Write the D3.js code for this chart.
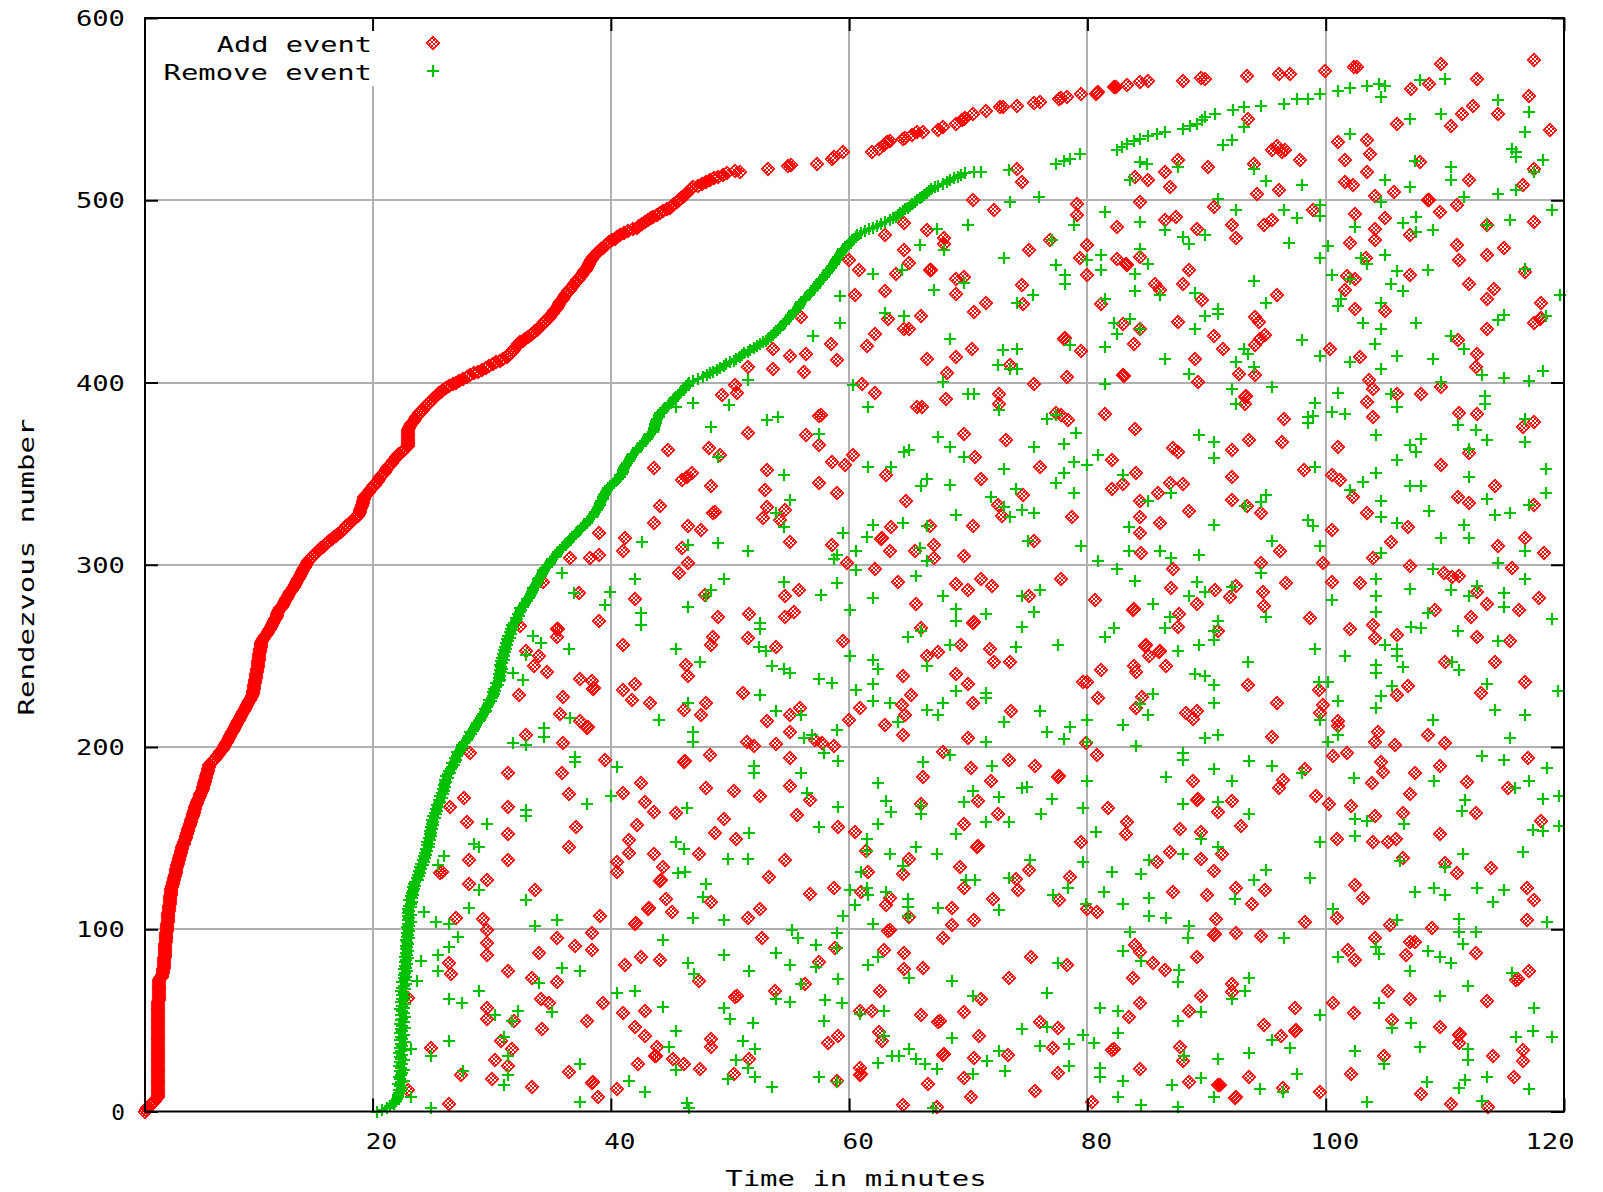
<!DOCTYPE html>
<html><head><meta charset="utf-8">
<script src="https://cdn.jsdelivr.net/npm/d3@7"></script>
<style>body{margin:0;background:#fff}svg{display:block}text{font-family:"DejaVu Sans Mono",monospace;font-size:21.5px;fill:#000}</style>
</head><body><svg id="c" width="1603" height="1192"></svg>
<script>
const xTicks=[20,40,60,80,100,120];
const yTicks=[0,100,200,300,400,500,600];
const seriesNames=["Add event","Remove event"];
const xTitle="Time in minutes";
const yTitle="Rendezvous number";

// First add time (minutes) of rendezvous number n = index 0..515
const addFrontTimes=[
0.9,1.0,1.1,1.3,1.5,1.6,1.75,1.85,1.95,1.98,
2.0,2.0,2.0,2.0,2.0,2.0,2.0,2.0,2.0,2.0,
2.0,2.0,2.0,2.0,2.0,2.0,2.0,2.0,2.0,2.0,
2.0,2.0,2.0,2.0,2.0,2.0,2.0,2.0,2.0,2.0,
2.0,2.02,2.02,2.02,2.02,2.02,2.02,2.02,2.02,2.02,
2.02,2.02,2.02,2.02,2.02,2.02,2.02,2.02,2.02,2.02,
2.02,2.05,2.05,2.05,2.05,2.05,2.05,2.05,2.05,2.05,
2.05,2.05,2.05,2.15,2.3,2.35,2.4,2.43,2.45,2.48,
2.5,2.5,2.5,2.51,2.52,2.54,2.55,2.56,2.57,2.59,
2.6,2.61,2.62,2.63,2.65,2.66,2.67,2.68,2.7,2.71,
2.72,2.74,2.75,2.77,2.79,2.81,2.82,2.84,2.86,2.87,
2.89,2.91,2.93,2.94,2.96,2.98,2.99,3.01,3.03,3.05,
3.06,3.08,3.12,3.16,3.19,3.23,3.27,3.31,3.35,3.38,
3.42,3.46,3.5,3.54,3.57,3.61,3.65,3.69,3.73,3.76,
3.8,3.84,3.89,3.94,3.99,4.04,4.09,4.14,4.19,4.25,
4.3,4.35,4.4,4.45,4.5,4.55,4.6,4.65,4.7,4.74,
4.79,4.84,4.89,4.93,4.98,5.03,5.08,5.12,5.17,5.23,
5.3,5.36,5.42,5.49,5.55,5.61,5.68,5.74,5.78,5.83,
5.87,5.92,5.96,6.0,6.05,6.09,6.13,6.18,6.22,6.27,
6.31,6.44,6.56,6.69,6.82,6.94,7.07,7.2,7.32,7.45,
7.54,7.62,7.71,7.79,7.88,7.96,8.05,8.13,8.22,8.3,
8.39,8.48,8.56,8.65,8.73,8.82,8.9,8.98,9.06,9.14,
9.22,9.3,9.38,9.46,9.54,9.62,9.7,9.78,9.86,9.94,
9.97,10.0,10.02,10.05,10.08,10.1,10.13,10.16,10.19,10.22,
10.24,10.27,10.3,10.33,10.36,10.38,10.4,10.42,10.45,10.47,
10.49,10.51,10.53,10.55,10.58,10.6,10.62,10.64,10.73,10.83,
10.92,11.01,11.11,11.2,11.29,11.39,11.48,11.56,11.64,11.71,
11.79,11.87,11.95,12.02,12.1,12.18,12.27,12.37,12.46,12.55,
12.65,12.74,12.83,12.93,13.02,13.11,13.21,13.3,13.39,13.49,
13.58,13.67,13.77,13.86,13.94,14.02,14.09,14.17,14.25,14.33,
14.4,14.48,14.56,14.72,14.88,15.03,15.19,15.35,15.51,15.66,
15.82,16.01,16.19,16.38,16.57,16.75,16.94,17.13,17.31,17.5,
17.65,17.81,17.96,18.12,18.27,18.43,18.58,18.74,18.89,18.94,
18.98,19.03,19.08,19.12,19.17,19.22,19.26,19.31,19.43,19.56,
19.68,19.81,19.93,20.05,20.18,20.3,20.42,20.54,20.66,20.77,
20.89,21.01,21.13,21.25,21.38,21.5,21.63,21.75,21.88,22.0,
22.13,22.25,22.43,22.6,22.78,22.95,22.95,22.95,22.95,22.95,
22.95,22.95,22.95,22.95,22.95,23.05,23.15,23.25,23.35,23.45,
23.55,23.65,23.79,23.93,24.07,24.21,24.35,24.49,24.63,24.77,
24.93,25.09,25.25,25.41,25.57,25.73,25.89,26.17,26.45,26.72,
27.0,27.28,27.59,27.89,28.2,28.5,28.83,29.15,29.48,29.8,
30.1,30.39,30.69,30.98,31.28,31.42,31.56,31.69,31.83,31.97,
32.11,32.24,32.38,32.6,32.83,33.05,33.28,33.5,33.66,33.81,
33.97,34.12,34.28,34.43,34.59,34.74,34.9,35.01,35.12,35.22,
35.33,35.44,35.55,35.65,35.76,35.87,35.98,36.08,36.19,36.3,
36.43,36.55,36.68,36.81,36.93,37.06,37.18,37.31,37.44,37.56,
37.69,37.78,37.88,37.97,38.06,38.16,38.25,38.34,38.44,38.53,
38.69,38.85,39.01,39.17,39.33,39.49,39.65,39.87,40.1,40.32,
40.55,40.77,41.12,41.47,41.82,42.17,42.4,42.63,42.87,43.1,
43.33,43.56,43.84,44.13,44.41,44.69,44.97,45.16,45.34,45.53,
45.71,45.9,46.08,46.25,46.42,46.59,46.76,46.93,47.28,47.63,
47.97,48.32,48.67,49.03,49.38,49.73];

// Remaining (sparser) first-add events at the top of the front: [minutes, number]
const addFrontTail=[[50.4,516],[50.8,515.5],[53.2,517],[54.9,518.8],[55.1,519.2],[57.3,520.1],[58.6,522.8],[58.7,523.7],[59.5,526.5],[61.9,526.5],[62.5,528.3],[62.9,530.1],[63.2,532],[63.4,532.5],[64.5,533.8],[64.7,534.2],[65.3,535.6],[65.7,537.4],[66.2,537.4],[67.5,538.7],[67.9,540.2],[69.0,541.6],[69.5,544.2],[69.6,544.7],[69.7,545.3],[70.4,547.5],[71.5,548.8],[72.7,550.9],[72.9,551.3],[74.1,551.5],[75.5,553.3],[76.0,553.9],[77.6,555.5],[77.8,555.9],[78.3,556.6],[79.5,558.5],[80.7,558.5],[80.8,558.8],[80.9,559.2],[82.2,561.9],[82.4,562.3],[83.3,563],[84.4,564.9],[85.1,565.4],[88.05,565.4],[89.5,567],[89.9,566.7],[93.4,568],[96.1,569.4],[97.0,569.4],[99.9,570.9],[102.4,573],[102.6,573.3],[109.7,574.9],[117.5,576.7]];

// Add events scattered after the front: [minutes, number]
const addScatter=[[60.0,467],[60.8,461.6],[60.5,447.9],[56.0,436],[53.6,418.6],[55.0,414.4],[56.4,415.9],[58.5,421.3],[59.0,412.2],[51.5,408.5],[53.6,407.6],[56.2,405.8],[50.4,398.5],
[74.1,517.3],[74.5,510],[70.4,500.3],[72.2,494.8],[79.1,498.1],[79.1,491.7],[64.6,487.5],[63.0,480.8],[66.5,483.9],[68.0,479.5],[68.0,476.2],[64.6,472.5],[65.0,465.6],[63.9,459.7],[66.8,461.9],[66.9,461.5],[75.1,472.5],[76.9,478],[80.0,475.3],[79.4,468.5],[80.0,458.8],[69.0,457],[69.6,457.9],[69.0,448.8],[74.5,453.3],[63.0,450.2],[71.5,443.6],[74.6,443.3],[70.5,438.7],[63.3,435],[66.0,436.3],[64.6,429.6],[65.0,429.6],[62.2,426.8],[61.5,419.9],[66.5,413.1],[69.0,414],[70.3,418.6],[78.0,424.1],[78.1,424.6],[79.5,417.3],[68.2,405.3],[73.5,409.5],[78.3,403.1],[75.5,399.4],[61.1,399.4],
[82.5,468],[83.2,465.2],[83.3,464.7],[84.4,468.9],[85.7,454.2],[86.1,450.6],[88.0,454.2],[88.5,461.6],[89.2,484.4],[89.6,445.1],[86.5,489],[87.4,490.8],[84.4,499],[82.5,485.3],[86.5,515.5],[87.6,521.9],[86.9,507.3],[85.1,511.3],[84.0,512.7],[90.1,518.2],[81.1,443.3],[83.0,432.3],[84.4,429.6],[87.6,433.2],[83.9,421.3],[89.0,413.1],[83.0,404],[83.1,403.3],[89.3,400.3],
[112.7,566.7],[107.2,561.2],[108.7,563.9],[117.1,557],[114.5,547.5],[111.4,547.1],[112.4,551.5],[110.5,540.5],[106.0,541.6],[118.8,538.7],[93.5,544.7],[101.0,532],[103.5,533.2],[95.5,527.7],[95.9,529.6],[96.3,526.5],[96.6,527.4],[97.8,522.3],[94.0,520.1],[101.6,522.3],[103.7,525.5],[107.9,521],[103.5,515.5],[101.6,510],[102.3,508.5],[112.0,511.3],[117.5,517.3],[116.6,508.2],[96.1,505.8],[94.2,503.2],[104.1,502.1],[105.7,504.5],[108.6,500],[108.7,500.4],[109.6,493.6],[111.0,497.2],[90.6,496.3],[92.1,486.2],[92.5,479.5],[94.8,486.2],[95.5,489.3],[98.9,494.8],[102.5,492.3],[105.0,490.4],[104.1,484.4],[104.1,478.4],[102.0,476.6],[107.1,480.8],[113.5,486.2],[117.5,488.1],[111.0,475.3],[111.2,467.4],[113.5,469.8],[115.0,474],[103.4,468.5],[101.8,458.3],[102.5,457],[101.6,450.6],[107.1,458.8],[112.0,454.2],[113.5,446],[114.1,451.5],[116.7,460.6],[118.1,443.6],[118.0,435],[118.1,435.5],[117.5,432.7],[113.5,429.6],[102.5,440.5],[105.0,439.3],[95.9,447.9],[94.1,436],[94.4,433.2],[90.6,425.4],[91.4,418.6],[94.1,420.4],[94.5,424.1],[94.9,425.9],[92.7,404.5],[94.1,404],[100.4,418.6],[102.9,414],[103.6,401.2],[111.1,423.5],[112.7,415.9],[112.6,408.5],
[49.3,393.2],[50.6,394.5],[57.5,381.7],[57.6,382.2],[51.5,372.5],[56.4,371.2],[57.5,365.8],[44.8,363],[48.2,363.9],[49.2,360.3],[58.6,356.6],[60.35,360.3],[59.65,354.8],[43.6,352.9],[53.1,352],[46.0,346.6],[46.8,350.2],[46.4,348.4],[48.4,343.3],[57.5,345.1],[59.0,339.6],[52.9,341.1],[44.1,332.3],[48.6,328.3],[48.7,328.8],[53.1,331.9],[52.8,325.5],[54.2,324.6],[54.6,330.1],[43.6,322.8],[46.5,321.3],[47.6,318.8],[39.0,317.3],[41.2,314.6],[55.0,312.7],[58.6,310.9],[46.0,309.1],[41.05,307.3],[36.6,303.6],[38.25,303.6],[39.0,305.4],[46.5,301.2],[45.7,295.4],[59.8,301.2],[34.3,290.8],[37.3,284.4],[42.0,281.1],[47.9,283.5],[54.6,282.9],[55.8,285.9],[49.0,271.2],[51.6,273.1],[54.6,271.6],[55.4,274.3],[39.0,268.9],[32.4,266.5],[35.5,264.6],[35.6,265],[35.5,260.3],[48.6,260.6],[48.4,256.1],[51.5,259.7],[53.9,255.1],[59.5,257.9],[41.0,256.1],[32.9,252.9],[34.0,250],[33.55,244.5],[34.6,240.9],[46.3,245.1],[46.5,238.7],[37.4,237.2],[38.4,236],[38.5,231.7],[38.6,232.2],[41.0,231.4],[42.0,234.7],[32.3,228.6],[51.1,229.9],[36.0,227.4],[41.8,225.9],[43.3,224.4],[48.0,224.4],[46.1,220.4],[47.6,217.7],[35.7,218.2],[37.4,214],[38.0,210.4],[38.1,210.9],[55.9,221.3],[55.0,217.7],[53.1,214],[55.0,208.5],[60.0,215],[32.9,206.7],[36.0,202.1],[51.4,203],[52.0,200.3],[53.9,201.8],[57.1,204],[57.7,202.1],[58.7,200.3],
[62.2,394.5],[65.7,386.8],[66.1,386.8],[68.1,390.8],[72.6,393.7],[72.6,388.2],[77.4,383.5],[77.8,382.2],[78.4,379.5],[69.6,371.8],[73.2,368.5],[70.6,359],[63.1,349.3],[76.0,353.5],[71.1,346.9],[74.6,338.3],[64.8,335.2],[72.5,332.8],[72.8,326.8],[78.7,326.1],[63.5,320.6],[66.8,321.3],[70.4,321.3],[62.7,314],[62.8,314.5],[63.4,307.8],[65.5,307.3],[67.1,310.9],[67.1,303.6],[69.6,304.9],[75.5,313.3],[62.2,297.6],[64.1,290.8],[69.0,289.5],[70.0,285.9],[71.1,292.1],[72.0,288.4],[77.8,292.1],[75.1,282.9],[65.6,278.5],[70.4,267.9],[70.5,268.4],[66.0,265.2],[66.5,250],[67.5,252.4],[69.4,256.1],[71.8,253.7],[72.2,246.4],[73.5,246.4],[64.5,238.7],[69.0,240.2],[70.0,234.7],[65.2,228.6],[64.4,223.1],[60.9,221.3],[70.4,224.4],[73.6,220],[64.7,217.7],[63.0,212.2],[64.5,206.7],[70.0,204.9],
[81.5,382.8],[84.0,374.3],[87.2,363.9],[87.6,362.1],[82.1,357.5],[84.1,350.6],[83.0,344.4],[82.1,341.4],[85.9,339.6],[86.9,344.7],[88.05,344.4],[84.4,335.2],[88.5,329.7],[84.4,326.1],[84.4,317.3],[86.1,322.8],[84.5,306.3],[87.2,297.6],[87.0,287.1],[80.6,280.4],[89.2,278.5],[83.8,275.3],[83.9,275.8],[87.7,273.1],[87.6,265.8],[84.8,255.5],[84.9,256],[86.0,252.4],[86.1,252.9],[85.2,249.7],[86.6,244.5],[83.9,244.5],[84.1,240.9],[81.1,242.4],[79.6,235.9],[80.0,235.4],[84.6,227.7],[84.1,221.3],[80.9,226.8],[88.3,218.6],[89.2,220],[88.9,215.3],[79.9,202.1],
[93.2,391.9],[93.3,392.4],[93.2,388.2],[96.5,379.8],[93.6,368.5],[96.3,367.6],[92.1,363],[92.1,348],[98.2,352],[92.1,335.6],[93.4,332.3],[94.6,328.3],[96.2,307.8],[94.6,301.2],[99.8,300.8],[104.0,396.3],[103.5,389.5],[104.0,381.3],[106.0,393.7],[108.0,393.7],[109.7,397.7],[111.2,383.5],[112.7,382.8],[116.6,375.8],[117.5,378.5],[101.0,364.5],[109.7,354.8],[112.0,361.2],[100.5,349.3],[101.2,346.6],[102.3,337.4],[114.2,343.3],[111.1,337],[112.0,333.8],[117.5,332.8],[103.5,328.3],[106.9,320.6],[100.5,318.8],[105.5,312.7],[116.7,314.6],[114.5,310.4],[118.3,306.3],[104.0,303.6],[107.1,299.4],[109.9,295.4],[110.6,293.2],[111.2,293.9],[115.6,298.1],[90.7,285.9],[92.5,288.4],[92.0,282.2],[94.7,284.8],[94.8,277.5],[96.7,289.9],[100.5,290.8],[102.9,289.9],[112.7,285.3],[113.5,278.5],[117.9,281.6],[116.2,274.9],[98.7,270.7],[109.2,274.9],[112.2,271.2],[102.0,264.7],[104.0,267],[106.0,261.5],[104.1,259.7],[112.7,260.6],[115.5,257.9],[91.0,263.4],[114.2,246.9],[110.0,246.9],[93.5,234.1],[99.4,231.4],[106.0,228.6],[106.9,233.2],[113.0,229.9],[116.7,235.9],[95.9,224.4],[99.8,223.1],[99.5,218.9],[101.0,214],[101.0,211.3],[104.4,208.5],[104.1,203],[95.5,205.4],[108.6,206.7],[110.0,202.1],[105.8,201.2],
[28.2,196.5],[31.4,185.6],[35.9,185.6],[27.7,171.9],[26.5,167.3],[31.4,167.3],[27.9,159.1],[36.5,174],[37.1,156.3],[31.4,152.1],[36.5,145.3],[28.1,138],[31.4,138],[25.7,130.7],[25.8,131.2],[28.1,124.7],[29.6,127.1],[33.6,121.6],[27.0,106.4],[29.3,105.7],[29.6,99.6],[29.6,92.3],[29.6,85.6],[26.4,81.4],[26.6,75.3],[31.4,77.1],[39.1,107.5],[38.4,97.8],[35.5,95.4],[37.0,91],[38.4,88.7],[34.0,86.8],[33.4,73.1],[35.5,70.9],[34.1,61.8],[34.8,59.4],[39.3,59.4],[38.0,49.7],[29.6,56.7],[29.6,50.8],[31.9,49.4],[34.2,45.3],[23.0,62.2],[30.8,38.8],[31.7,34.4],[24.9,34.8],[30.3,28.3],[31.4,24.7],[36.5,21.6],[30.0,17.9],[33.4,13.7],[38.4,15.5],[38.5,16],[38.9,8.2],[26.4,4],[23.0,11.9],[27.4,20],
[39.5,192.9],[46.1,192],[46.2,192.5],[48.3,195.6],[55.0,193.8],[42.5,180.1],[41.0,174.6],[42.9,170],[43.6,164.5],[45.5,163.6],[48.0,177.3],[50.3,175.9],[52.5,173.3],[55.0,178.8],[56.7,170.9],[55.6,162.7],[42.2,157.2],[41.5,149],[49.5,160.5],[48.7,152.7],[50.5,149.5],[41.5,141.7],[40.5,137.1],[40.5,131.6],[43.6,141.1],[44.4,134.4],[44.1,126.5],[44.2,127],[47.4,141.1],[54.6,138],[53.3,128.9],[44.6,116.6],[43.1,111.2],[43.2,111.7],[45.1,109.3],[42.0,102.7],[42.1,103.2],[48.4,114.8],[51.5,106.4],[52.5,111.2],[56.7,119.2],[58.7,122.9],[59.1,156.3],[52.7,95.4],[41.2,80.4],[42.5,84.5],[44.1,83.2],[47.4,71.7],[50.4,63.1],[53.8,66.2],[56.3,69.8],[57.5,81.9],[58.8,89.9],[41.0,53.9],[42.9,55.2],[42.0,46.6],[42.9,41.7],[43.9,35.6],[43.7,30.2],[43.8,30.7],[45.2,28.9],[46.1,26],[42.3,26],[47.5,23.4],[48.4,39.9],[48.4,35.6],[50.6,63.6],[51.6,28.9],[50.3,20.5],[58.2,37.5],[59.1,41.7],[40.5,12.4],[59.0,16.8],
[67.9,197.1],[73.4,192.9],[75.6,189.8],[70.2,188.3],[66.2,183.7],[77.5,183.7],[77.6,184.2],[71.9,181.4],[70.8,170.4],[66.0,168.6],[72.5,163.1],[69.6,157.6],[60.5,153.6],[79.5,148.1],[70.7,145.3],[70.8,145.8],[61.4,143],[65.0,138.6],[61.6,131.6],[64.5,130.2],[69.3,134.4],[75.1,132.5],[78.5,128.9],[74.0,127.6],[74.2,121.6],[69.6,122.9],[61.0,120.3],[63.4,117.4],[63.1,113.4],[72.1,116.6],[77.6,116.1],[68.6,111.9],[65.0,106.9],[68.6,102.4],[70.5,105.1],[63.3,99.1],[63.4,99.6],[67.9,95.4],[62.95,88.7],[64.6,86.8],[64.6,78.3],[66.2,79],[75.3,84.5],[78.3,80.4],[73.4,73.1],[62.6,66.2],[60.9,55.2],[61.9,55.2],[66.0,52.7],[67.5,49],[67.6,49.5],[69.6,54.5],[71.1,61.8],[70.9,41.7],[62.5,43.5],[62.8,38.8],[67.9,31.1],[68.0,31.6],[70.5,29.3],[73.3,31.1],[76.0,49],[77.5,45.7],[77.1,34.7],[60.9,23.8],[60.9,20.1],[61.0,20.6],[66.6,15],[69.6,18.6],[77.5,21],[75.6,11],[64.5,3.3],[67.4,2.2],[70.2,8.2],
[80.8,195.6],[88.9,181.4],[89.2,170.9],[89.3,171.4],[92.1,170.4],[96.4,181.9],[96.1,177.3],[99.2,173.3],[98.3,188],[91.0,164.5],[81.7,166.4],[83.3,159],[83.2,152.1],[87.8,155],[89.5,153.6],[92.9,156.9],[91.3,141.1],[86.9,142.6],[85.8,137.1],[89.5,138.6],[90.6,132],[87.2,120.7],[90.0,118.8],[92.5,122.5],[93.8,113.7],[94.9,121.6],[98.3,103.8],[90.8,105.7],[80.8,109.7],[80.0,111.2],[90.6,96.9],[90.7,97.4],[92.5,97.8],[94.6,96.5],[84.0,91.4],[84.4,87.4],[85.5,81.4],[89.2,84.5],[86.5,77.7],[83.8,73.1],[92.1,69.8],[92.1,65.5],[89.5,63.6],[84.4,59.4],[88.5,55.2],[83.5,51.6],[94.8,47.2],[96.25,41.7],[97.4,44.2],[97.5,44.7],[97.4,56.7],[82.1,33.8],[82.2,34.3],[87.8,35.6],[88.0,27.8],[84.4,23.4],[88.5,16.1],[91.0,14.3],[91.1,14.8],[92.4,7.3],[92.5,7.8],[93.6,19.2],[96.4,12.8],[99.5,10.6],[80.4,5.1],
[100.6,195.3],[101.8,196.5],[104.6,191.6],[104.8,186.5],[107.5,185.6],[109.6,189.8],[111.9,181],[103.9,180.1],[107.1,174],[100.3,168.6],[102.1,167.8],[112.6,163.6],[106.5,163.6],[104.1,162.3],[117.0,193.8],[115.3,177.7],[118.1,159.4],[100.95,149.5],[104.0,148.1],[105.2,148.1],[105.9,149.5],[109.6,152.1],[106.5,138.9],[110.0,136.2],[111.0,130.7],[113.85,133.8],[102.5,124.3],[103.1,117.4],[116.9,122.9],[117.5,116.1],[116.9,105.1],[100.95,106.4],[105.4,102.4],[108.9,100.9],[104.1,95.4],[107.1,92.9],[107.5,93.2],[101.9,88.7],[102.5,83.2],[106.7,85.6],[112.6,86.8],[117.1,77.1],[116.0,72.2],[116.1,72.7],[105.2,66.2],[107.1,61.8],[113.5,60.7],[100.6,59.4],[102.4,53.9],[105.6,50.3],[109.6,46.6],[111.2,42],[111.3,42.5],[111.2,37.5],[116.6,33.8],[116.6,27.8],[114.0,30.2],[104.9,30.7],[102.1,20.5],[115.8,19.2],[108.0,9.5],[110.5,4],[113.6,2.7]];

// First remove time (minutes) of rendezvous number n = index 0..515
const removeFrontTimes=[
20.4,20.8,21.2,21.5,21.8,21.9,22.0,22.05,22.1,22.15,
22.2,22.4,22.2,22.5,22.3,22.1,22.4,22.6,22.3,22.2,
22.4,22.5,22.3,22.6,22.4,22.2,22.5,22.3,22.6,22.4,
22.3,22.5,22.2,22.4,22.6,22.3,22.5,22.4,22.7,22.3,
22.5,22.4,22.6,22.3,22.5,22.4,22.7,22.5,22.3,22.6,
22.4,22.5,22.7,22.4,22.6,22.5,22.3,22.6,22.5,22.7,
22.4,22.6,22.5,22.7,22.5,22.6,22.4,22.7,22.5,22.6,
22.8,22.5,22.7,22.6,22.8,22.6,22.7,22.9,22.6,22.8,
22.7,22.9,22.7,22.8,23.0,22.7,22.9,22.8,23.0,22.8,
22.9,22.8,23.0,22.9,22.8,23.1,22.9,23.0,22.9,23.1,
23.0,22.9,23.1,23.0,23.2,22.95,23.1,23.0,23.2,23.0,
23.1,23.0,23.2,23.1,23.2,23.3,23.1,23.3,23.2,23.4,
23.3,23.4,23.5,23.4,23.6,23.5,23.6,23.8,23.7,23.9,
23.8,24.0,23.9,24.1,24.0,24.2,24.1,24.3,24.2,24.4,
24.3,24.5,24.4,24.6,24.5,24.7,24.6,24.7,24.6,24.8,
24.7,24.9,24.8,24.9,24.8,25.0,24.9,25.1,24.95,25.1,
25.0,25.2,25.1,25.3,25.2,25.4,25.3,25.5,25.4,25.6,
25.65,25.6,25.8,25.7,25.9,25.8,26.0,25.9,26.1,26.0,
26.1,26.2,26.1,26.3,26.2,26.3,26.5,26.4,26.6,26.7,
26.8,26.7,26.9,27.0,26.9,27.1,27.2,27.1,27.3,27.4,
27.6,27.5,27.7,27.8,27.9,28.0,28.1,28.3,28.2,28.4,
28.5,28.6,28.7,28.8,28.9,29.0,29.1,29.2,29.3,29.4,
29.5,29.4,29.6,29.7,29.8,29.9,29.8,30.0,30.1,30.2,
30.1,30.3,30.2,30.4,30.5,30.4,30.6,30.7,30.6,30.7,
30.6,30.8,30.7,30.9,30.8,30.7,30.9,30.8,31.0,30.9,
31.0,30.95,31.1,31.0,31.2,31.1,31.3,31.2,31.4,31.3,
31.5,31.4,31.6,31.5,31.7,31.6,31.8,31.7,31.85,32.0,
32.1,32.0,32.3,32.2,32.4,32.5,32.4,32.6,32.7,32.8,
32.95,33.0,33.1,33.2,33.3,33.35,33.5,33.5,33.6,33.7,
33.8,33.9,33.9,34.0,34.1,34.2,34.3,34.3,34.5,34.6,
34.8,34.9,35.0,35.1,35.3,35.4,35.5,35.6,35.75,35.9,
36.0,36.2,36.3,36.5,36.6,36.8,36.9,37.1,37.2,37.4,
37.5,37.7,37.8,38.0,38.1,38.2,38.4,38.5,38.6,38.7,
38.85,38.9,39.0,39.1,39.1,39.2,39.3,39.35,39.4,39.5,
39.6,39.7,39.8,39.95,40.1,40.3,40.4,40.6,40.75,40.8,
40.9,41.0,41.0,41.1,41.2,41.3,41.35,41.5,41.6,41.7,
41.8,41.9,42.1,42.2,42.3,42.5,42.6,42.7,42.9,43.0,
43.1,43.2,43.3,43.5,43.6,43.6,43.7,43.7,43.8,43.8,
43.9,44.0,44.0,44.1,44.3,44.4,44.6,44.8,44.9,45.0,
45.2,45.3,45.5,45.6,45.8,45.9,46.1,46.2,46.3,46.5,
46.6,46.9,47.3,47.7,48.05,48.3,48.6,48.9,49.2,49.5,
49.7,50.0,50.3,50.5,50.8,51.0,51.2,51.5,51.7,52.0,
52.3,52.5,52.8,53.0,53.2,53.4,53.6,53.7,53.9,54.0,
54.2,54.3,54.5,54.6,54.7,54.9,55.0,55.1,55.3,55.4,
55.5,55.7,55.8,55.9,56.0,56.2,56.3,56.4,56.6,56.7,
56.9,57.0,57.1,57.2,57.4,57.5,57.6,57.7,57.85,58.0,
58.1,58.2,58.3,58.5,58.6,58.7,58.8,58.9,59.0,59.1,
59.2,59.3,59.4,59.5,59.7,59.8,60.0,60.1,60.3,60.4,
60.6,60.7,61.0,61.3,61.7,62.0,62.3,62.7,63.0,63.4,
63.7,63.9,64.1,64.3,64.5,64.7,64.9,65.1,65.3,65.5,
65.7,65.95,66.1,66.3,66.5,66.7,66.9,67.2,67.5,67.9,
68.2,68.5,68.8,69.1,69.4,69.7];

// Remaining (sparser) first-remove events at the top of the front: [minutes, number]
const removeFrontTail=[[70.5,515.5],[71.1,515.5],[73.4,516.8],[77.4,520.1],[78.0,521.5],[78.5,522.8],[79.4,525.6],[82.5,527.4],[82.9,529],[83.3,531],[83.9,532.5],[84.4,533.8],[85.1,535.1],[85.8,536.5],[86.5,537.5],[88.0,539.3],[88.6,540.5],[89.2,542],[89.6,544],[89.9,545.7],[90.7,547.5],[92.2,549.5],[93.1,551.2],[94.6,551.6],[96.5,552.7],[97.6,555.7],[98.5,555.7],[99.5,558.5],[101.0,560],[102.0,561.8],[103.5,562.6],[104.5,564],[105.0,562.8],[107.9,565.8],[110.0,566.7]];

// Remove events scattered after the front: [minutes, number]
const removeScatter=[[59.2,447.3],[59.2,432.7],[57.0,425.4],[51.5,401.2],[60.35,398.5],
[75.9,501.8],[73.5,499],[70.0,486.2],[67.4,484.4],[65.95,475.3],[68.0,472.5],[73.0,468.5],[77.0,478],[78.9,486.2],[80.0,467],[77.4,464.3],[78.1,458.8],[78.1,454.2],[62.0,459.7],[64.4,461.6],[67.1,450.6],[69.6,454.6],[75.4,447.9],[74.1,443.6],[63.0,438.2],[64.6,436.3],[68.5,424.1],[72.9,417.7],[74.1,418.6],[72.5,409.5],[73.5,407.6],[74.1,407.6],[78.5,420.4],[67.9,400.3],
[81.5,493.6],[81.1,469.8],[81.1,461.6],[81.5,446],[84.4,488.1],[84.4,473.4],[85.1,465.2],[84.0,459.7],[84.0,450.2],[86.1,447.9],[86.5,483.9],[88.05,479.8],[88.5,476.2],[89.0,449.1],[89.9,436.3],[89.0,429.6],[83.6,435],[82.2,432.7],[82.5,426.8],[84.4,429.6],[81.5,419.5],[86.5,413.1],[88.5,404.5],[84.4,521],[85.0,520.1],[83.6,511.3],[87.6,518.2],[81.5,399.4],
[104.6,556.6],[114.5,554.8],[117.1,548.4],[116.7,537.4],[115.6,528.3],[116.0,526.5],[116.0,523.7],[118.2,522.3],[117.5,515.5],[116.0,505.8],[114.5,503.6],[109.7,547.5],[107.1,544.7],[102.0,536.5],[107.5,521.5],[110.5,518.2],[110.5,511.3],[105.0,510.9],[107.1,507.3],[111.6,501.8],[104.6,499],[119.0,494.8],[115.5,489.3],[113.5,486.2],[107.6,490.8],[106.5,487.5],[102.5,485.3],[107.6,482.6],[109.0,483.5],[100.2,474.7],[99.5,468.5],[103.0,468.5],[103.5,465.2],[105.0,469.8],[106.0,461.2],[108.6,461.6],[100.5,458.8],[102.0,457],[105.5,454.2],[106.5,450.2],[101.3,446],[101.0,441.8],[104.6,443.6],[116.7,462.5],[119.7,447.9],[118.5,436.3],[114.5,434.1],[115.0,436.9],[107.6,432.7],[103.1,432.7],[104.6,429.6],[104.1,421.3],[106.0,414.4],[109.0,413.1],[110.5,425.4],[111.6,418.6],[104.6,407.6],[102.0,411.3],[99.5,414.4],[113.1,404],[115.0,402.2],[117.1,400.9],[118.2,406.3],[109.7,400.3],
[93.1,540.2],[91.4,530.1],[92.1,533.2],[94.0,517.3],[95.0,510.6],[98.0,508.2],[91.0,500.9],[92.5,494.8],[96.5,494.8],[97.6,490.4],[99.5,497.2],[99.5,491.2],[96.9,476.6],[94.0,455.7],[95.0,443.6],[91.0,440.5],[91.0,437.4],[98.0,423.5],[93.1,418.6],[93.5,415.9],[92.5,411.3],[94.0,408.5],[89.9,480.8],
[46.9,389],[45.5,386.8],[49.9,387.7],[53.1,379.5],[54.0,380.9],[48.4,375.4],[57.5,371.8],[49.0,359],[54.5,349.3],[55.0,335.6],[53.9,328.6],[54.5,320.9],[59.5,317.3],[42.6,312.7],[46.5,310.9],[49.0,311.8],[51.5,307.3],[59.0,305.4],[58.7,303],[60.6,307.3],[60.6,297.2],[35.9,295.4],[42.0,292.1],[49.5,292.1],[54.5,290.8],[59.0,289.9],[36.9,284.4],[39.9,285.3],[48.4,285.9],[48.0,282.6],[57.6,283.5],[39.5,278],[46.5,276.7],[42.5,273.4],[42.5,267],[60.1,275.3],[52.5,267.9],[52.5,264.6],[33.5,261],[34.1,257],[36.5,253.7],[45.5,253.7],[52.4,255.1],[53.0,252.9],[32.9,250.6],[47.5,246.4],[53.5,244.5],[54.5,242.7],[55.0,240.5],[60.1,249.7],[31.8,240.5],[32.6,236.9],[57.5,237.2],[58.6,235],[52.5,228.6],[60.6,231.4],[46.5,224.4],[53.9,219.5],[56.0,217.7],[36.6,215.8],[44.0,214.6],[34.4,210.4],[34.4,205.4],[59.0,209.4],[46.9,208],[46.9,203],[31.8,202.1],[32.9,201.2],[56.2,204.9],[56.9,206.7],
[70.0,393.7],[70.5,393.7],[61.6,386.8],[72.6,385],[76.6,379.8],[77.4,382.2],[79.0,372.5],[67.5,370],[68.5,364.5],[75.5,364.5],[78.0,366.3],[64.6,362.1],[65.0,363],[69.6,359],[61.6,353.5],[63.5,353.5],[73.0,352.4],[78.9,356.6],[78.0,350.6],[66.5,346.9],[66.0,343.3],[68.5,343.8],[77.4,345.1],[78.9,339.6],[74.0,341.4],[71.9,337],[73.0,331.9],[73.5,326.1],[74.5,330.1],[75.5,328.3],[69.0,327.4],[62.0,321.9],[64.5,322.8],[66.5,321.3],[61.5,315.1],[65.95,309.1],[66.5,301.8],[75.0,313.3],[79.5,310.4],[65.6,294],[62.0,281.6],[67.9,282.9],[69.0,275.6],[69.0,269.4],[71.5,273.1],[74.5,282.9],[76.0,285.9],[75.5,274.3],[74.5,265.8],[64.9,260.3],[66.0,263.9],[68.5,256.1],[74.0,255.1],[77.5,256.1],[62.0,247.5],[62.4,242.7],[66.5,244.5],[62.0,234.7],[62.0,225.5],[63.4,224.4],[66.5,220.4],[67.5,217.7],[67.9,224.4],[69.0,231],[71.5,229.9],[71.5,226.8],[76.0,220],[73.0,213.5],[64.1,213.5],[76.6,208],[78.0,204.3],[78.5,210.9],[80.0,215],[71.5,202.5],
[89.4,371.2],[80.9,360.3],[80.0,354.8],[83.0,349.3],[85.1,335.2],[87.0,339.6],[83.5,320.6],[83.5,307.8],[86.1,307.8],[87.0,303.6],[89.4,305.4],[80.9,301.8],[82.5,297.6],[84.0,291.3],[89.2,290.3],[88.5,282.9],[89.9,285.3],[85.5,278.5],[86.9,271.2],[86.5,265.2],[82.2,265.2],[81.5,260.3],[87.6,252.9],[89.4,256.1],[89.0,240.2],[85.5,229.2],[84.4,223.7],[85.1,217.7],[83.0,212.2],[80.0,203],[84.1,200.3],[89.9,204.9],
[92.1,396.3],[95.5,397.7],[92.5,388.2],[99.1,389],[98.5,381.3],[98.9,381.7],[98.5,378],[100.5,384],[101.6,382.8],[101.0,394.5],[105.5,393.7],[106.0,386.8],[113.4,392.6],[113.4,388.2],[111.1,376.7],[112.6,374],[113.5,368.5],[116.7,379.8],[116.7,367.6],[104.2,371.2],[106.0,357.5],[107.1,365.8],[107.6,362.1],[108.0,368.9],[112.0,363.4],[112.0,348],[118.5,352.4],[118.5,339.6],[90.6,367.6],[90.6,358.4],[99.1,353.5],[104.2,350.6],[103.1,345.6],[102.0,341.1],[107.1,343.3],[108.0,343.3],[113.5,335.9],[114.2,327.4],[115.5,328.3],[117.1,332.8],[104.6,335.2],[104.6,326.1],[106.0,322.8],[108.7,329.7],[111.6,321.9],[112.0,314.6],[109.7,314.6],[116.7,307.3],[114.5,301.2],[116.7,292.1],[119.0,270.1],[93.2,332.3],[95.0,338.3],[94.6,334.7],[90.6,321.9],[95.5,313.3],[98.5,324.6],[98.9,321.3],[99.5,310.4],[104.6,306.7],[94.6,295.7],[109.0,297.6],[104.2,292.1],[104.2,282.6],[104.2,274.3],[107.1,286.6],[110.5,285.9],[112.0,282.6],[112.7,288.4],[115.0,284.4],[115.0,276.7],[108.6,273.4],[107.2,265.8],[108.0,265.2],[111.1,263.4],[114.5,257.9],[100.5,280.4],[92.1,287.7],[91.0,269.4],[90.6,263.9],[90.6,258.8],[95.0,271.6],[99.1,253.7],[105.0,256.1],[106.0,253.7],[106.0,250],[101.6,249.7],[106.5,243.8],[104.2,245.1],[104.2,240.5],[110.6,246.4],[111.2,242.4],[93.5,246.4],[89.9,239.1],[90.6,234.1],[99.4,235.4],[100.2,235.4],[105.6,233.6],[104.6,228.1],[101.0,225.5],[104.2,221.3],[90.6,224.4],[113.5,234.7],[114.2,220.4],[116.7,217.7],[119.5,231],[109.0,214.9],[99.5,214.9],[101.0,206.7],[100.2,203],[91.0,206.7],[115.5,204.9],
[37.0,194.7],[37.0,192],[40.5,189.2],[40.0,173.3],[38.0,168.6],[32.9,165.5],[32.9,162.3],[29.6,157.6],[28.5,146.6],[28.9,145.3],[26.0,140.4],[25.5,135.3],[28.9,121.6],[32.9,116.1],[28.1,111.9],[24.3,109.7],[25.3,104.2],[26.4,102.7],[33.6,102],[35.5,105.1],[27.2,96],[26.4,90.5],[25.5,85.6],[25.5,77.1],[24.1,82.6],[23.7,71.7],[28.9,66.2],[26.4,61.8],[27.5,59.4],[34.0,70.4],[35.9,79],[37.4,77.1],[35.1,54.5],[32.2,55.2],[30.3,52.7],[31.7,49.4],[26.4,38.8],[24.9,30.2],[23.2,34.4],[31.0,41.1],[31.4,30.2],[37.4,26],[27.6,22.3],[31.0,14.6],[31.4,20.1],[23.2,8.2],[24.9,1.8],[37.4,5.1],
[42.0,66.2],[40.5,64.9],[44.4,94.2],[44.4,57.6],[45.5,44.2],[44.9,35.6],[46.4,166.4],[45.5,148.1],[46.1,144.1],[45.6,130.7],[46.2,131.3],[48.0,124.7],[47.7,117.9],[46.9,106.4],[46.5,81.4],[47.0,75.3],[49.5,85.6],[49.5,105.1],[49.8,138.6],[51.5,138.6],[51.6,152.7],[52.0,189.8],[52.0,185.6],[56.0,185.6],[56.5,174.6],[57.5,156.3],[59.1,167.3],[57.9,196.5],[59.1,192.3],[60.1,121.6],[59.5,107.5],[55.2,99.6],[55.7,95.1],[57.2,91.4],[59.0,97.8],[59.0,89.6],[53.9,86.8],[55.0,80.4],[57.2,79.5],[51.6,77.1],[56.0,69.8],[53.9,61.8],[55.0,60],[58.0,61.3],[59.1,72.8],[59.4,59.4],[49.5,57],[50.0,50.8],[51.9,48.4],[57.9,49.7],[45.5,22.8],[51.1,38.8],[52.1,34.4],[50.5,28.3],[51.5,24.1],[52.1,19.2],[49.8,17.9],[53.5,13.7],[57.5,19.2],[59.0,16.1],[41.5,16.5],[42.9,10.6],[46.4,4.6],[46.6,1.8],
[68.5,195.6],[66.2,192],[71.95,189.8],[72.6,172.8],[74.9,178.3],[74.5,177.7],[77.0,171.5],[76.1,163.1],[80.0,181.4],[79.6,166.4],[62.4,180.1],[63.1,170.4],[63.5,164.5],[66.0,167.8],[66.0,163.1],[69.6,170],[70.4,175.9],[62.4,157.6],[69.0,152.1],[71.5,159.1],[73.4,159.1],[61.5,149.5],[61.5,143],[63.45,141.1],[65.6,145.3],[67.4,141.1],[64.5,134.9],[75.2,138],[69.8,127.1],[70.6,127.1],[73.4,128.3],[61.0,131.6],[61.5,122.9],[63.1,120.7],[64.9,116.6],[64.9,112.4],[60.5,113.4],[67.5,111.9],[72.6,110.6],[77.1,118.8],[78.4,122.9],[79.6,136.7],[79.9,113.7],[62.0,102.7],
[88.0,196.5],[88.0,192.9],[86.6,183.7],[90.6,188],[92.15,181.4],[93.6,192.3],[95.5,189.8],[98.0,185.6],[88.0,168.6],[91.0,170],[93.6,163.1],[89.5,149.5],[91.0,145.3],[88.0,141.1],[85.15,138],[82.1,131.6],[84.5,130.2],[80.7,153.2],[95.0,132.5],[93.95,127.1],[98.65,128.3],[99.5,148.1],[81.4,120.7],[85.15,117.4],[83.0,113.7],[85.15,107.5],[86.6,106.4],[92.4,116.6],[88.5,102],[83.6,98.7],[88.4,95.4],[96.5,95.4],[83.0,88.1],[84.5,82.6],[87.7,77.7],[87.6,71],[93.6,73.5],[93.2,66.2],[92.15,61.8],[81.05,56.7],[82.6,55.2],[87.6,49.7],[89.5,54.5],[82.6,43],[80.55,37.5],[99.5,52.7],[95.5,39.3],[97.0,34.7],[91.0,28.9],[93.6,32],[88.1,30.7],[81.05,24.1],[81.05,19.2],[83.0,16.5],[82.6,8.2],[87.1,14.6],[89.5,18.3],[90.6,8.2],[94.5,12.4],[96.4,10.9],[97.6,20.5],[84.5,3.3],[87.6,2.2],[79.6,42],
[61.6,118.8],[64.9,107.5],[62.4,84.5],[61.6,80.4],[65.0,73.1],[68.6,71.7],[70.4,63.6],[60.9,53.4],[62.95,55.2],[76.6,64.9],[77.5,81.4],[74.5,45.3],[76.6,46.6],[68.6,40.2],[65.0,34.4],[62.95,41.7],[62.4,26.5],[63.6,30.2],[64.2,30.2],[65.6,28.9],[66.4,26],[67.4,23.4],[70.4,20.5],[71.6,27.8],[73.1,22.3],[72.6,33.3],[76.0,36.2],[78.45,36.9],[78.45,24.7],[67.0,1.8],
[102.4,183.2],[109.1,181.4],[113.1,195.3],[115.0,192.9],[117.1,181.4],[118.6,188.3],[119.6,173.3],[118.2,171.5],[115.9,177.3],[111.7,170.9],[111.4,164.9],[102.5,160.5],[103.5,159.4],[102.5,151.4],[106.6,157.6],[111.55,141.1],[110.0,134.4],[106.2,137.5],[116.6,142.2],[117.4,154.5],[118.25,153.9],[119.6,156.9],[107.5,120.7],[109.1,122.9],[110.0,118.8],[112.7,122.9],[115.0,121.6],[114.0,114.8],[100.6,111.2],[106.0,105.1],[111.2,105.7],[111.2,98.4],[112.6,98.4],[118.6,103.8],[101.0,84.5],[104.2,90.5],[104.5,86.3],[108.6,88.1],[109.6,85],[110.5,81.4],[107.1,77.1],[111.55,91.8],[115.6,75.9],[111.95,69.1],[109.6,63.6],[104.5,59.4],[105.6,45.7],[107.15,48.4],[117.5,56.7],[116.0,41.1],[117.4,44.2],[119.0,41.1],[111.95,34.4],[111.95,28.4],[107.9,35.6],[102.5,33.3],[104.9,26],[108.5,16.1],[111.2,12.8],[111.7,17.4],[113.5,19.2],[117.1,12.4],[103.5,5.1],[113.1,5.8]];

const svg=d3.select("#c");
const x=d3.scaleLinear().domain([0.9,120]).range([145,1564]);
const y=d3.scaleLinear().domain([0,600]).range([1111.5,18]);
const X0=x.range()[0],X1=x.range()[1],Y0=y.range()[0],Y1=y.range()[1];

const addEvents=addFrontTimes.map((t,n)=>[t,n]).concat(addFrontTail,addScatter);
const removeEvents=removeFrontTimes.map((t,n)=>[t,n]).concat(removeFrontTail,removeScatter);

const defs=svg.append("defs");
const pat=defs.append("pattern").attr("id","chk").attr("patternUnits","userSpaceOnUse").attr("width",4).attr("height",4);
pat.append("rect").attr("x",0).attr("y",0).attr("width",2).attr("height",2).attr("fill","#ff0000");
pat.append("rect").attr("x",2).attr("y",2).attr("width",2).attr("height",2).attr("fill","#ff0000");

// grid
const grid=svg.append("g").attr("stroke","#b0b0b0").attr("stroke-width",2);
grid.selectAll("line.vx").data(xTicks.filter(v=>v<120)).join("line")
  .attr("x1",d=>Math.round(x(d))).attr("x2",d=>Math.round(x(d))).attr("y1",Y1).attr("y2",Y0);
grid.selectAll("line.hy").data(yTicks.filter(v=>v>0&&v<600)).join("line")
  .attr("y1",d=>Math.round(y(d))).attr("y2",d=>Math.round(y(d))).attr("x1",X0).attr("x2",X1);

// legend background
svg.append("rect").attr("x",150).attr("y",20).attr("width",305).attr("height",66).attr("fill","#fff");

// markers
const diamond="M0,-6.5L6.5,0L0,6.5L-6.5,0Z";
const plus="M-6,0H6M0,-6V6";
function drawAdd(g,data){
  g.selectAll("path").data(data).join("path")
   .attr("d",diamond)
   .attr("transform",d=>`translate(${Math.round(x(d[0]))},${Math.round(y(d[1]))})`)
   .attr("fill","url(#chk)").attr("stroke","#ff0000").attr("stroke-width",1.3);
}
function drawRemove(g,data){
  g.selectAll("path").data(data).join("path")
   .attr("d",plus)
   .attr("transform",d=>`translate(${Math.round(x(d[0]))},${Math.round(y(d[1]))})`)
   .attr("fill","none").attr("stroke","#00c000").attr("stroke-width",2.2);
}
drawAdd(svg.append("g"),addEvents);
drawRemove(svg.append("g"),removeEvents);

// frame and ticks
svg.append("rect").attr("x",X0).attr("y",Y1).attr("width",X1-X0).attr("height",Y0-Y1)
  .attr("fill","none").attr("stroke","#000").attr("stroke-width",2);
function ticks(axis,tr){
  const g=svg.append("g").attr("transform",tr).style("color","#000").call(axis);
  g.select(".domain").remove();
  g.selectAll(".tick line").attr("stroke-width",2);
  g.selectAll(".tick text").remove();
}
ticks(d3.axisBottom(x).tickValues(xTicks).tickSize(-13).tickSizeOuter(0),`translate(0,${Y0})`);
ticks(d3.axisTop(x).tickValues(xTicks).tickSize(-13).tickSizeOuter(0),`translate(0,${Y1})`);
ticks(d3.axisLeft(y).tickValues(yTicks).tickSize(-13).tickSizeOuter(0),`translate(${X0},0)`);
ticks(d3.axisRight(y).tickValues(yTicks).tickSize(-13).tickSizeOuter(0),`translate(${X1},0)`);

// text helper with gnuplot-like wide monospace
const ADV=17.7;
function wOf(s){return s.length*ADV-4;}
function txt(g,s,xx,yy,anchor){
  const w=wOf(s);
  const sx=anchor==="end"?xx-w:anchor==="middle"?xx-w/2:xx;
  return g.append("text").attr("x",sx).attr("y",yy).attr("textLength",w).attr("lengthAdjust","spacingAndGlyphs").text(s);
}
const tg=svg.append("g");
xTicks.forEach(v=>txt(tg,String(v),Math.min(x(v)+9,1550),1149,"middle"));
yTicks.forEach(v=>txt(tg,String(v),125,y(v)+8,"end"));
txt(tg,xTitle,856,1186,"middle");
const yt=svg.append("g").attr("transform","translate(33.5,567) rotate(-90)");
txt(yt,yTitle,0,0,"middle");

// legend
txt(tg,seriesNames[0],372,51.7,"end");
txt(tg,seriesNames[1],372,80,"end");
svg.append("path").attr("d",diamond).attr("transform","translate(433,43)").attr("fill","url(#chk)").attr("stroke","#ff0000").attr("stroke-width",1.3);
svg.append("path").attr("d",plus).attr("transform","translate(433,71)").attr("fill","none").attr("stroke","#00c000").attr("stroke-width",2.2);
</script></body></html>
